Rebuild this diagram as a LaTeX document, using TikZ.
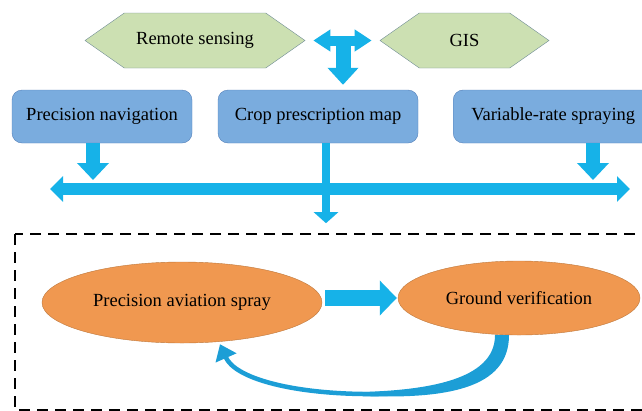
\documentclass[tikz,border=0pt]{standalone}
\usepackage{fontspec}
\setmainfont{Liberation Serif}
\usetikzlibrary{arrows.meta,shapes.symbols,shapes.geometric}
\definecolor{arrowblue}{RGB}{22,178,232}
\definecolor{loopblue}{RGB}{28,158,214}
\definecolor{boxfill}{RGB}{122,172,222}
\definecolor{boxline}{RGB}{84,128,186}
\definecolor{hexfill}{RGB}{204,224,178}
\definecolor{hexline}{RGB}{112,140,150}
\definecolor{ovalfill}{RGB}{240,152,80}
\definecolor{ovalline}{RGB}{190,120,60}
\tikzset{>=Triangle}

\begin{document}
\begin{tikzpicture}[x=1pt,y=-1pt,
  txt/.style={font=\fontsize{18.5}{21}\selectfont},
  hexbox/.style={txt,signal,signal to=west and east,signal pointer angle=70,
    draw=hexline,fill=hexfill,minimum height=55pt,inner sep=0pt},
  roundbox/.style={txt,draw=boxline,fill=boxfill,rounded corners=10pt,
    minimum height=53pt,inner xsep=10pt},
  oval/.style={txt,ellipse,draw=ovalline,fill=ovalfill},
  fatarrow/.style={draw=arrowblue,line width=14pt,-{Triangle[width=31pt,length=17pt]}},
  busarrow/.style={draw=arrowblue,line width=12pt,
    {Triangle[width=25pt,length=13pt]}-{Triangle[width=25pt,length=13pt]}},
  thinarrow/.style={draw=arrowblue,line width=8pt,-{Triangle[width=24pt,length=11pt]}},
  loopback/.style={draw=loopblue,line width=4.5pt,-{Triangle[width=22pt,length=15pt]}},
  frame/.style={draw=black,line width=2.2pt,dash pattern=on 11pt off 7pt}]
\useasboundingbox (0,0) rectangle (642,410);
\begin{scope}
\clip (0,0) rectangle (642,410);
    % data sources
    \node[hexbox,minimum width=220pt] (rs) at (195,40.5) {Remote sensing};
    \node[hexbox,minimum width=169pt] (gis) at (464.5,40.5) {GIS};
    \coordinate (tee) at (343,40);
    % platform
    \node[roundbox,minimum width=180pt] (nav) at (102,116.5) {Precision navigation};
    \node[roundbox,minimum width=200pt] (map) at (318,116.5) {Crop prescription map};
    \node[roundbox,minimum width=200pt,anchor=west] (vrs) at (453,116.5) {Variable-rate spraying};
    \coordinate (busL) at (50,189);
    \coordinate (busR) at (630,189);
    % T junction
    \draw[fatarrow,line width=15pt,-{Triangle[width=30pt,length=17pt]},shorten >=5pt] (tee) -- (tee |- map.north);
    \draw[busarrow,line width=10pt,{Triangle[width=21pt,length=17pt]}-{Triangle[width=21pt,length=17pt]}]
        ([xshift=8pt]rs.east) -- ([xshift=-8pt]gis.west);
    % down to the bus
    \draw[fatarrow] (nav.south -| 93,0) -- (93,180);
    \draw[fatarrow] (vrs.south -| 593,0) -- (593,180);
    \draw[busarrow] (busL) -- (busR);
    \draw[thinarrow] ([xshift=8pt]map.south) -- ++(0,80);
    % field loop
    \draw[frame] (15,234) rectangle (680,410);
    \node[oval,minimum width=280pt,minimum height=81pt] (pas) at (182,302.5) {Precision aviation spray};
    \node[oval,minimum width=242pt,minimum height=74pt] (gv) at (519,298) {Ground verification};
    \draw[fatarrow,line width=16pt,-{Triangle[width=34pt,length=17pt]},shorten <=3pt,shorten >=1pt]
        (gv.west -| pas.east) -- (gv.west);
    \coordinate (loopmid) at (363,394);
    \fill[loopblue] ([xshift=-24pt]gv.south) .. controls +(0,46) and +(60,-2) .. ([yshift=2pt]loopmid)
        -- ([yshift=-2pt]loopmid) .. controls +(82,3) and +(0,54) .. ([xshift=-10pt]gv.south) -- cycle;
    \draw[loopback] ([xshift=-17pt]gv.south) .. controls +(0,49) and +(62,1) .. (loopmid)
        .. controls +(-73,-1) and +(15,34) .. ([xshift=38pt,yshift=-1pt]pas.south);
\end{scope}
\end{tikzpicture}
\end{document}
